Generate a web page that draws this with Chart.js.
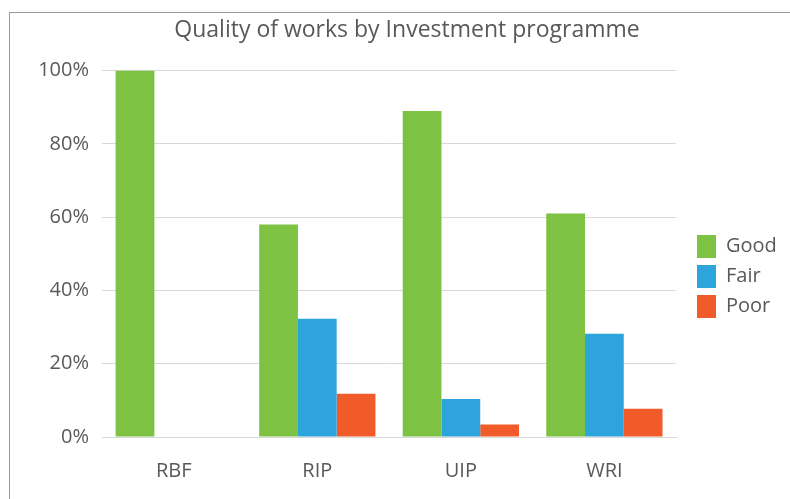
<!DOCTYPE html>
<html>
<head>
<meta charset="utf-8">
<script src="https://cdn.jsdelivr.net/npm/chart.js@4/dist/chart.umd.min.js"></script>
<style>
  html, body { margin: 0; padding: 0; background: #fff; overflow: hidden; }
  #frame { position: absolute; left: 9px; top: 12px; width: 800px; height: 500px; border: 1px solid #9a9a9a; box-sizing: border-box; }
  #c { position: absolute; left: 8px; top: 13px; }
</style>
</head>
<body>
<div id="frame"></div>
<canvas id="c" width="782" height="486"></canvas>
<script>
const categories = ['RBF', 'RIP', 'UIP', 'WRI'];
const seriesNames = ['Good', 'Fair', 'Poor'];
const good = [100, 58, 89, 61];
const fair = [0, 32.3, 10.4, 28.2];
const poor = [0, 11.8, 3.4, 7.7];
const yTicks = [0, 20, 40, 60, 80, 100];
const colors = ['#7DC242', '#2DA5DC', '#F15A29'];

const FONT = '"Open Sans", Lato, sans-serif';
const TXT = '#595959';

const boxPlace = {
  id: 'boxPlace',
  afterLayout(chart) {
    const lg = chart.legend;
    const w = lg.width, h = lg.height;
    lg.left = 682; lg.right = 682 + w;
    lg.top = 215; lg.bottom = 215 + h;
    const t = chart.titleBlock;
    if (t) {
      const tw = t.width;
      t.left = 399 - tw / 2; t.right = t.left + tw;
    }
  }
};

new Chart(document.getElementById('c'), {
  type: 'bar',
  data: {
    labels: categories,
    datasets: [
      { label: seriesNames[0], data: good, backgroundColor: colors[0] },
      { label: seriesNames[1], data: fair, backgroundColor: colors[1] },
      { label: seriesNames[2], data: poor, backgroundColor: colors[2] }
    ]
  },
  options: {
    responsive: false,
    maintainAspectRatio: false,
    animation: false,
    devicePixelRatio: 1,
    layout: { padding: { left: 0, right: 17, top: 0, bottom: 0 } },
    datasets: { bar: { categoryPercentage: 0.81, barPercentage: 1.0 } },
    plugins: {
      title: {
        display: true,
        text: 'Quality of works by Investment programme',
        color: TXT,
        font: { family: FONT, size: 23, weight: 'normal' },
        padding: { top: 4, bottom: 26 }
      },
      legend: {
        position: 'right',
        align: 'start',
        labels: {
          color: TXT,
          font: { family: FONT, size: 20 },
          boxWidth: 19,
          boxHeight: 23,
          padding: 7
        }
      },
      tooltip: { enabled: false }
    },
    scales: {
      x: {
        afterFit(axis) { axis.height = 62; },
        grid: { display: false, drawTicks: false },
        border: { display: true, color: '#d9d9d9', width: 1 },
        ticks: { color: TXT, font: { family: FONT, size: 20 }, padding: 22 }
      },
      y: {
        min: 0, max: 100,
        afterBuildTicks(axis) { axis.ticks = yTicks.map(v => ({ value: v })); },
        afterFit(axis) { axis.width = 94; },
        grid: { color: '#d9d9d9', drawTicks: false, lineWidth: 1 },
        border: { display: false },
        ticks: { color: TXT, font: { family: FONT, size: 20 }, padding: 13, callback: v => v + '%' }
      }
    }
  },
  plugins: [boxPlace]
});
</script>
</body>
</html>
